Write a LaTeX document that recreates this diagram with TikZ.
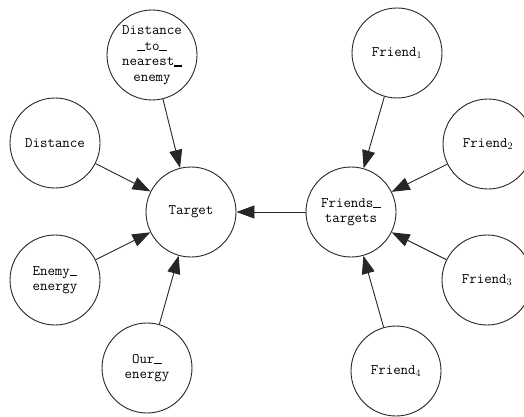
\documentclass[tikz,border=0pt]{standalone}
\usepackage{fontspec}
\usetikzlibrary{arrows.meta}
% heavy underscore used in the node names
\newcommand{\us}{\rule[-1.2pt]{7.5pt}{1.7pt}}
\tikzset{
  var/.style={circle, draw=black!85, line width=0.9pt, minimum size=90pt, inner sep=0pt,
    align=center, font=\ttfamily\fontsize{14.5pt}{15.5pt}\selectfont},
  dep/.style={draw=black!85, line width=0.9pt, -{Triangle[length=18pt,width=13pt]}}
}
\begin{document}
\begin{tikzpicture}[x=1pt,y=-1pt]
\useasboundingbox (0,0) rectangle (524,417);
% left cluster
\node[var] (target) at (191,212) {Target};
\node[var] (dtn) at (152,55) {Distance\\\us to\us\\nearest\us\\enemy};
\node[var] (dist) at (55,143) {Distance};
\node[var] (ene) at (55,280) {Enemy\us\\energy};
\node[var] (our) at (147,368) {Our\us\\energy};
% right cluster
\node[var] (ft) at (351,212) {Friends\us\\targets};
\node[var] (f1) at (397,53) {Friend$_1$};
\node[var] (f2) at (488,144) {Friend$_2$};
\node[var] (f3) at (487,280) {Friend$_3$};
\node[var] (f4) at (396,371) {Friend$_4$};
% dependencies
\draw[dep] (dtn) -- (target);
\draw[dep] (dist) -- (target);
\draw[dep] (ene) -- (target);
\draw[dep] (our) -- (target);
\draw[dep] (ft) -- (target);
\draw[dep] (f1) -- (ft);
\draw[dep] (f2) -- (ft);
\draw[dep] (f3) -- (ft);
\draw[dep] (f4) -- (ft);
\end{tikzpicture}
\end{document}
